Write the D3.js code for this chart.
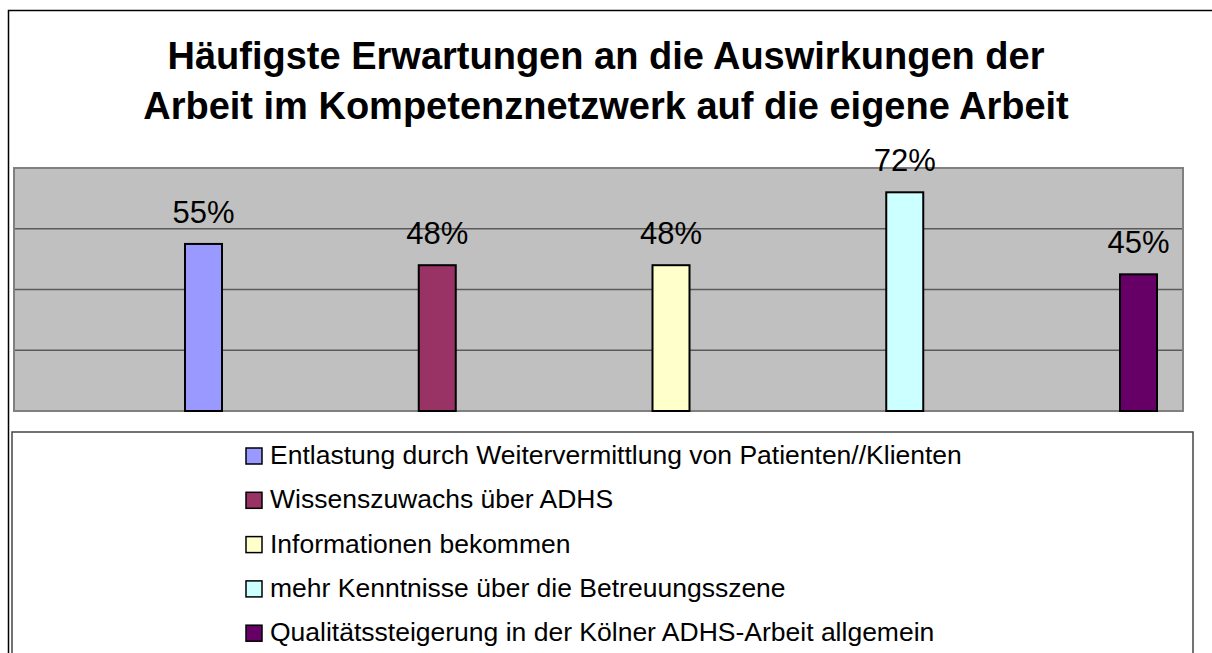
<!DOCTYPE html>
<html>
<head>
<meta charset="utf-8">
<script src="https://cdnjs.cloudflare.com/ajax/libs/d3/7.8.5/d3.min.js"></script>
<style>
  body { margin: 0; background: #fff; }
  svg { display: block; font-family: "Liberation Sans", Arial, sans-serif; }
</style>
</head>
<body>
<svg id="chart" width="1212" height="653"></svg>
<script>
// Survey chart: expectations for the network's effect on own work

const titleLines = [
    'Häufigste Erwartungen an die Auswirkungen der',
    'Arbeit im Kompetenznetzwerk auf die eigene Arbeit'
];
const categories = [
    'Entlastung durch Weitervermittlung von Patienten//Klienten',
    'Wissenszuwachs über ADHS',
    'Informationen bekommen',
    'mehr Kenntnisse über die Betreuungsszene',
    'Qualitätssteigerung in der Kölner ADHS-Arbeit allgemein'
];
const values = [0.55, 0.48, 0.48, 0.72, 0.45];
const colors = ['#9999FF', '#993366', '#FFFFCC', '#CCFFFF', '#660066'];
const gridTicks = [0, 0.2, 0.4, 0.6, 0.8];

const svg = d3.select('#chart');

// Outer chart frame (runs off the right/bottom edge)
svg.append('rect')
    .attr('x', 8.5).attr('y', 10.5)
    .attr('width', 1220).attr('height', 660)
    .attr('fill', '#fff')
    .attr('stroke', '#000')
    .attr('stroke-width', 1.5);

// Title
svg.append('text')
    .attr('text-anchor', 'middle')
    .attr('font-weight', 'bold')
    .attr('font-size', 38)
    .selectAll('tspan')
    .data(titleLines)
    .enter()
    .append('tspan')
    .attr('x', 606)
    .attr('y', (d, i) => 69 + i * 50)
    .text(d => d);

// Plot area
const plot = { left: 14, right: 1183, top: 168, bottom: 411 };

const y = d3.scaleLinear()
    .domain([0, 0.8])
    .range([plot.bottom, plot.top]);

const x = d3.scalePoint()
    .domain(categories)
    .range([203.5, 1138.5]);

const barWidth = 37;

svg.append('rect')
    .attr('x', plot.left).attr('y', plot.top)
    .attr('width', plot.right - plot.left)
    .attr('height', plot.bottom - plot.top)
    .attr('fill', '#C0C0C0');

// Gridlines
svg.append('g')
    .selectAll('line')
    .data(gridTicks.slice(1, -1))
    .enter()
    .append('line')
    .attr('x1', plot.left).attr('x2', plot.right)
    .attr('y1', d => y(d)).attr('y2', d => y(d))
    .attr('stroke', '#5a5a5a')
    .attr('stroke-width', 1.5);

svg.append('rect')
    .attr('x', plot.left).attr('y', plot.top)
    .attr('width', plot.right - plot.left)
    .attr('height', plot.bottom - plot.top)
    .attr('fill', 'none')
    .attr('stroke', '#808080')
    .attr('stroke-width', 2);

// Bars
svg.append('g')
    .selectAll('rect')
    .data(values)
    .enter()
    .append('rect')
    .attr('x', (d, i) => x(categories[i]) - barWidth / 2)
    .attr('y', d => y(d))
    .attr('width', barWidth)
    .attr('height', d => y(0) - y(d))
    .attr('fill', (d, i) => colors[i])
    .attr('stroke', '#000')
    .attr('stroke-width', 2);

// Value labels
svg.append('g')
    .selectAll('text')
    .data(values)
    .enter()
    .append('text')
    .attr('x', (d, i) => x(categories[i]))
    .attr('y', d => y(d) - 21)
    .attr('text-anchor', 'middle')
    .attr('font-size', 31)
    .attr('fill', '#000')
    .text(d => Math.round(d * 100) + '%');

// Legend
const legend = svg.append('g');
legend.append('rect')
    .attr('x', 12).attr('y', 432)
    .attr('width', 1181).attr('height', 240)
    .attr('fill', '#fff')
    .attr('stroke', '#444')
    .attr('stroke-width', 1.5);

const rows = legend.selectAll('g.item')
    .data(categories)
    .enter()
    .append('g')
    .attr('class', 'item')
    .attr('transform', (d, i) => `translate(246, ${448 + i * 44.3})`);

rows.append('rect')
    .attr('width', 16).attr('height', 16)
    .attr('fill', (d, i) => colors[i])
    .attr('stroke', '#000')
    .attr('stroke-width', 1.5);

rows.append('text')
    .attr('x', 24)
    .attr('y', 16)
    .attr('font-size', 26.5)
    .attr('fill', '#000')
    .text(d => d);
</script>
</body>
</html>
